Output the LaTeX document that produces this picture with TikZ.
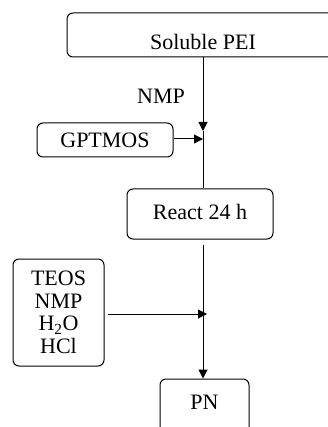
\documentclass[tikz,border=0pt]{standalone}
\usepackage{fontspec}
\setmainfont{Liberation Serif}
\usetikzlibrary{arrows.meta}
\begin{document}
\begin{tikzpicture}[x=1pt,y=-1pt,
  box/.style={draw, rounded corners=6pt, line width=1pt, inner sep=0pt,
    font=\fontsize{22}{22.5}\selectfont, align=center},
  lbl/.style={inner sep=0pt, font=\fontsize{22}{22.5}\selectfont},
  link/.style={line width=1pt},
  arr/.style={link, -{Triangle[length=9pt,width=9pt]}}]
\useasboundingbox (0,0) rectangle (328,427);
\clip (0,0) rectangle (328,427);
\node[box, anchor=base, text height=37pt, text depth=7pt, minimum width=272pt] (pei) at (203,50) {Soluble PEI};
\node[box, minimum width=136pt, minimum height=34pt] (gpt) at (105,140) {GPTMOS};
\node[box, anchor=base, text height=30pt, text depth=20pt, minimum width=146pt] (react) at (200,219) {React 24 h};
\node[box, minimum width=91pt, minimum height=107pt] (teos) at (58.5,312.5) {TEOS\\NMP\\H\textsubscript{2}O\\HCl};
\node[box, anchor=base, text height=30pt, text depth=40pt, minimum width=89pt] (pn) at (204.5,409) {PN};
\node[lbl, anchor=base] (nmp) at (161,104) {NMP};
\coordinate (j1) at (203,131);
\coordinate (j2) at (203,139);
\coordinate (j3) at (207,314);
\draw[arr] (pei.south -| j1) -- (j1);
\draw[link] (j1) -- (j1 |- react.north);
\draw[arr] (gpt.east |- j2) -- (j2);
\draw[arr, shorten <=5pt] (j1 |- react.south) -- (j1 |- pn.north);
\draw[arr, shorten <=3pt] (teos.east |- j3) -- (j3);
\end{tikzpicture}
\end{document}
